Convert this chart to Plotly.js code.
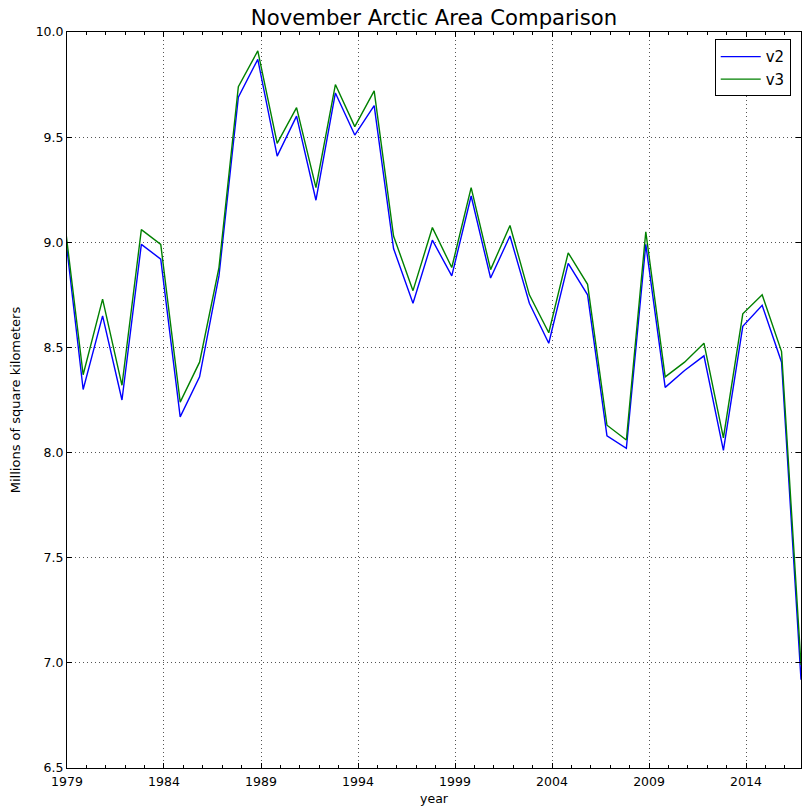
<!DOCTYPE html>
<html><head><meta charset="utf-8">
<script src="https://cdn.plot.ly/plotly-3.0.1.min.js"></script>
<style>html,body{margin:0;padding:0;background:#fff}</style>
</head><body>
<div id="chart" style="width:807px;height:812px"></div>
<script>
const years = [1978,1979,1980,1981,1982,1983,1984,1985,1986,1987,1988,1989,1990,1991,1992,1993,1994,1995,1996,1997,1998,1999,2000,2001,2002,2003,2004,2005,2006,2007,2008,2009,2010,2011,2012,2013,2014,2015,2016];
const v2 = [9.10,8.30,8.65,8.25,8.99,8.92,8.17,8.36,8.84,9.69,9.87,9.41,9.60,9.20,9.71,9.51,9.65,8.97,8.71,9.01,8.84,9.22,8.83,9.03,8.71,8.52,8.90,8.75,8.08,8.02,8.99,8.31,8.39,8.46,8.01,8.60,8.70,8.43,6.92];
const v3 = [9.13,8.37,8.73,8.32,9.06,8.99,8.24,8.43,8.88,9.74,9.91,9.47,9.64,9.26,9.75,9.55,9.72,9.03,8.77,9.07,8.88,9.26,8.87,9.08,8.75,8.57,8.95,8.80,8.13,8.06,9.05,8.36,8.43,8.52,8.07,8.66,8.75,8.48,6.99];
const tickYears = [1979,1984,1989,1994,1999,2004,2009,2014];
const seriesNames = ["v2","v3"];
const seriesColors = ["#0000ff","#008000"];

const dates = years.map(y => y + "-11-01");
const font = "DejaVu Sans, sans-serif";

const traces = [v2, v3].map((vals, i) => ({
  x: dates, y: vals, type: "scatter", mode: "lines", name: seriesNames[i],
  line: {color: seriesColors[i], width: 1.4}
}));

const layout = {
  width: 807, height: 812,
  margin: {l: 67, r: 6, t: 32, b: 44},
  paper_bgcolor: "#fff", plot_bgcolor: "#fff",
  font: {family: font, color: "#000", size: 12.5},
  title: {text: "November Arctic Area Comparison", font: {size: 21.2, family: font, color: "#000"},
          x: 0.5, xref: "paper", y: 1 - 18/812, yref: "container", yanchor: "middle"},
  xaxis: {
    type: "date",
    range: ["1979-01-01", dates[dates.length - 1]],
    tickmode: "array",
    tickvals: tickYears.map(y => y + "-01-01"),
    ticktext: tickYears.map(String),
    ticks: "inside", ticklen: 5, tickcolor: "#000", tickwidth: 1,
    ticklabelstandoff: 2,
    minor: {tick0: "1979-01-01", dtick: "M12", ticks: "inside", ticklen: 3, tickcolor: "#000", showgrid: false},
    showline: true, linecolor: "#000", linewidth: 1, mirror: "allticks",
    showgrid: true, gridcolor: "#555", griddash: "1px,3px", gridwidth: 1,
    zeroline: false,
    tickfont: {size: 12.5, family: font, color: "#000"},
    title: {text: "year", font: {size: 12.5, family: font, color: "#000"}, standoff: 6},
    automargin: false
  },
  yaxis: {
    range: [6.5, 10.0], dtick: 0.5, tick0: 6.5, tickformat: ".1f",
    ticks: "inside", ticklen: 5, tickcolor: "#000", tickwidth: 1,
    showline: true, linecolor: "#000", linewidth: 1, mirror: "allticks",
    showgrid: true, gridcolor: "#555", griddash: "1px,3px", gridwidth: 1,
    zeroline: false,
    tickfont: {size: 12.5, family: font, color: "#000"},
    title: {text: "Millions of square kilometers", font: {size: 13, family: font, color: "#000"}, standoff: 12},
    automargin: false
  },
  showlegend: true,
  legend: {
    x: 0.986, y: 0.99, xanchor: "right", yanchor: "top",
    bordercolor: "#000", borderwidth: 1, bgcolor: "#fff",
    font: {size: 15, family: font, color: "#000"},
    itemwidth: 40
  }
};

Plotly.newPlot("chart", traces, layout, {displayModeBar: false, staticPlot: true});
</script>
</body></html>
